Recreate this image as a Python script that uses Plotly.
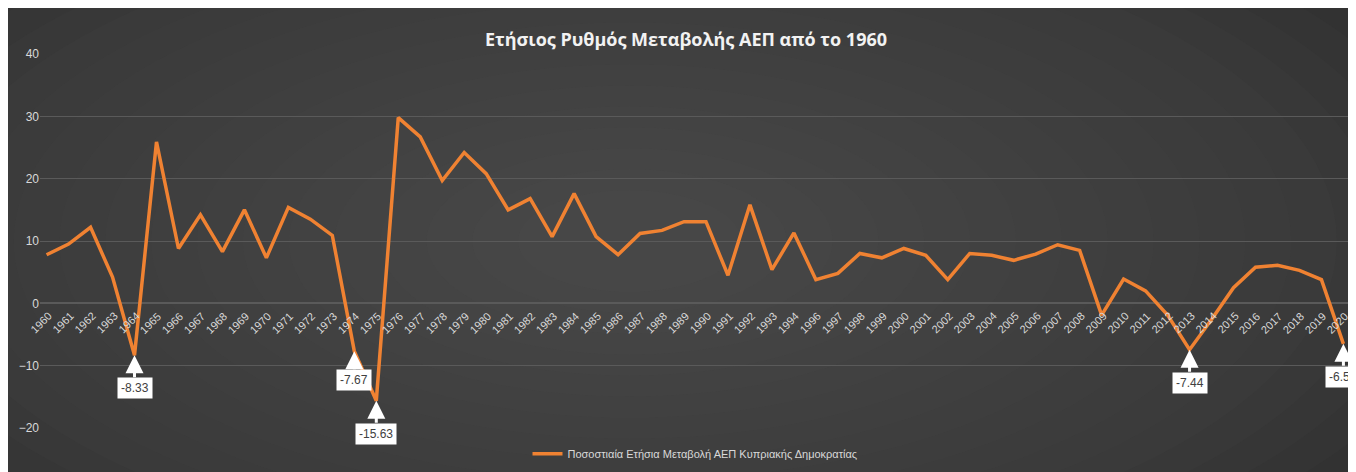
import plotly.graph_objects as go

years = [str(y) for y in range(1960, 2021) if y != 1995]
growth = [7.8, 9.5, 12.2, 4.2, -8.33, 25.9, 8.8, 14.2, 8.3, 15.0,
          7.3, 15.4, 13.5, 10.9, -7.67, -15.63, 29.8, 26.7, 19.7, 24.2,
          20.8, 15.0, 16.8, 10.7, 17.6, 10.7, 7.8, 11.2, 11.7, 13.1,
          13.1, 4.5, 15.8, 5.4, 11.3, 3.8, 4.8, 8.0, 7.3, 8.8,
          7.7, 3.8, 8.0, 7.7, 6.9, 7.9, 9.4, 8.5, -1.9, 3.9,
          2.0, -1.9, -7.44, -2.6, 2.5, 5.8, 6.1, 5.3, 3.8, -6.50]
labelled = {"1964": 22, "1974": 18, "1975": 22, "2013": 22, "2020": 22}
font_n = "Liberation Sans Narrow, Arial Narrow, sans-serif"

fig = go.Figure()
fig.add_trace(go.Scatter(x=list(range(len(years))), y=growth, mode="lines",
                         line=dict(color="#f08232", width=3.5),
                         name="Ποσοστιαία Ετήσια Μεταβολή ΑΕΠ Κυπριακής Δημοκρατίας"))

for yr, ay in labelled.items():
    i = years.index(yr)
    v = growth[i]
    fig.add_annotation(x=i, y=v, text=f"{v:.2f}", showarrow=True, ax=0, ay=ay,
                       arrowhead=2, arrowsize=1.2, arrowwidth=3, arrowcolor="white",
                       bgcolor="white", font=dict(color="#404040", size=12, family=font_n),
                       borderpad=3, yanchor="top")

for i, yr in enumerate(years):
    fig.add_annotation(x=i, y=0, text=yr, showarrow=False, textangle=-45,
                       xanchor="center", yanchor="top", yshift=-4, xshift=-6,
                       font=dict(color="#d9d9d9", size=11, family=font_n))

shapes = []
n = 20
for k in range(n):
    r = 0.75 - k * 0.035
    shapes.append(dict(type="circle", xref="paper", yref="paper",
                       x0=0.45 - r, x1=0.45 + r, y0=0.5 - r * 1.6, y1=0.5 + r * 1.6,
                       fillcolor="#707070", opacity=0.035, line=dict(width=0), layer="below"))

fig.update_layout(
    width=1356, height=472,
    paper_bgcolor="#2c2c2c", plot_bgcolor="rgba(0,0,0,0)",
    shapes=shapes,
    title=dict(text="<b>Ετήσιος Ρυθμός Μεταβολής ΑΕΠ από το 1960</b>", x=0.5, y=0.932,
               xanchor="center", yanchor="middle",
               font=dict(color="#f2f2f2", size=18, family="Open Sans, sans-serif")),
    margin=dict(l=32, r=14, t=46, b=46),
    showlegend=True,
    legend=dict(orientation="h", x=0.5, xanchor="center", y=-0.03, yanchor="top",
                font=dict(color="#d9d9d9", size=11, family=font_n),
                bgcolor="rgba(0,0,0,0)"),
    xaxis=dict(range=[-0.3, len(years) - 0.7], showgrid=False, zeroline=False,
               showline=False, showticklabels=False),
    yaxis=dict(range=[-20, 40], dtick=10, gridcolor="#5a5a5a", gridwidth=1,
               zeroline=True, zerolinecolor="#5a5a5a",
               tickfont=dict(color="#d9d9d9", size=12, family=font_n)),
)

fig.write_html("out.html")
